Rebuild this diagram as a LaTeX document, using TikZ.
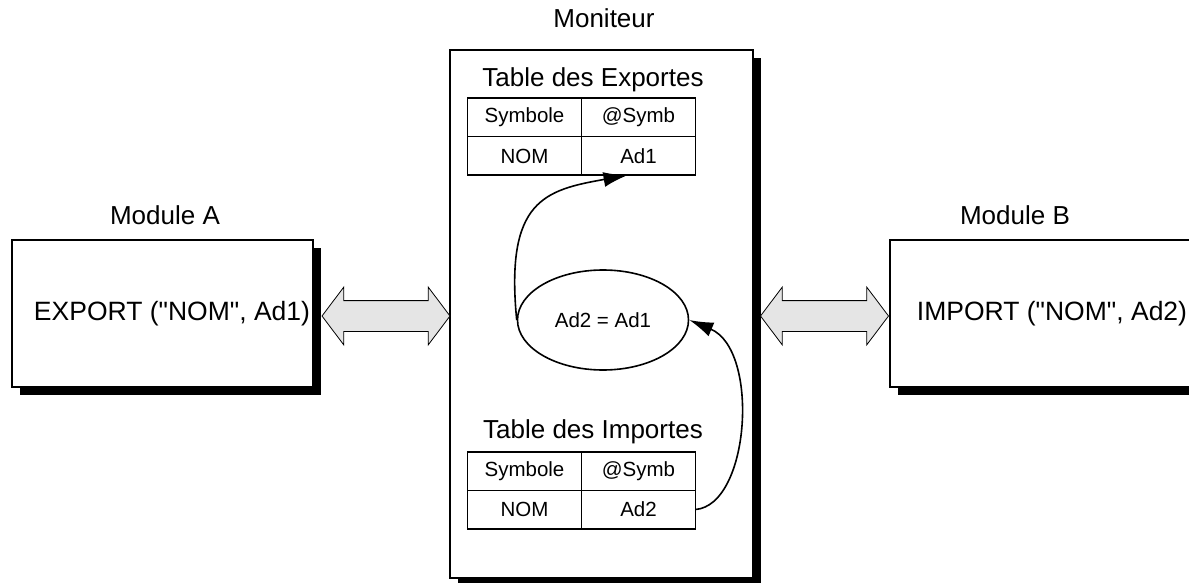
\documentclass[tikz,border=0pt]{standalone}
\usepackage{fontspec}
\setmainfont{Liberation Sans}[Ligatures=TeXOff]
\usetikzlibrary{shapes.geometric, shapes.arrows, arrows.meta, positioning, shadows}
\tikzset{
    boite/.style={draw, rectangle, line width=1.6pt, fill=white, inner sep=0pt, font=\fontsize{26.5}{30}\selectfont, drop shadow={shadow xshift=8pt, shadow yshift=-8pt, fill=black, opacity=1}},
    titre/.style={inner sep=0pt, font=\fontsize{26}{30}\selectfont},
    cellule/.style={draw, rectangle, line width=1.5pt, minimum width=114pt, minimum height=38.5pt, inner sep=0pt, outer sep=0pt, font=\fontsize{20.5}{24}\selectfont},
    calcul/.style={draw, ellipse, line width=1.6pt, minimum width=171pt, minimum height=100pt, inner sep=0pt, font=\fontsize{20.5}{24}\selectfont},
    echange/.style={double arrow, draw, line width=0.8pt, fill=black!10, inner xsep=0pt, inner ysep=15pt, minimum height=128pt, double arrow head extend=13.5pt, double arrow tip angle=106},
    fleche/.style={line width=1.6pt, -{Latex[length=24pt, width=15pt]}}
}
\begin{document}
\begin{tikzpicture}[x=1pt, y=-1pt]
        \useasboundingbox (0,0) rectangle (1189,583);

        % Modules et moniteur
        \node (modA) [boite, minimum width=301pt, minimum height=147pt] at (162.5,313.5) {\hspace{19pt}EXPORT ("NOM", Ad1)};
        \node (mon) [boite, minimum width=303pt, minimum height=528pt] at (601.5,314) {};
        \node (modB) [boite, minimum width=324pt, minimum height=147pt] at (1052,313.5) {IMPORT ("NOM", Ad2)};

        \node (tA) [titre] at (165,215) {Module A};
        \node (tMon) [titre] at (604,18) {Moniteur};
        \node (tB) [titre] at (1015,215) {Module B};

        % Table des exportes
        \node (tExp) [titre] at (593,80) {Table des Exportes};
        \node (expSym) [cellule] at (524.5,117.5) {Symbole};
        \node (expAt) [cellule, right=0pt of expSym] {@Symb};
        \node (expNom) [cellule, below=0pt of expSym] {NOM};
        \node (expAd) [cellule, below=0pt of expAt] {Ad1};

        % Table des importes
        \node (tImp) [titre] at (593,432) {Table des Importes};
        \node (impSym) [cellule] at (524.5,471) {Symbole};
        \node (impAt) [cellule, right=0pt of impSym] {@Symb};
        \node (impNom) [cellule, below=0pt of impSym] {NOM};
        \node (impAd) [cellule, below=0pt of impAt] {Ad2};

        \node (eq) [calcul] at (603,320) {Ad2 = Ad1};

        % Echanges
        \node (echA) [echange] at (386,316) {};
        \node (echB) [echange] at (824.5,316) {};

        \draw [fleche] (eq.west) .. controls (505,200) and (545,190) .. ([xshift=-11pt]expAd.south);
        \draw [fleche] (impAd.east) .. controls (750,505) and (760,350) .. (eq.east);

\end{tikzpicture}
\end{document}
